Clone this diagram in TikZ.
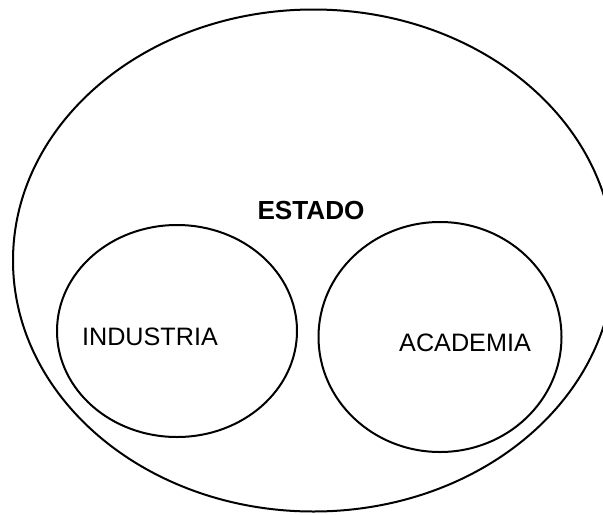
\documentclass[tikz,border=0pt]{standalone}
\usepackage{fontspec}
\setmainfont{Liberation Sans}
\usetikzlibrary{shapes.geometric}

\tikzset{
  conj/.style={draw, ellipse, line width=1.5pt, inner sep=0pt},
  rotulo/.style={inner sep=0.75pt, font=\fontsize{18.9}{21}\selectfont}
}

\begin{document}
\begin{tikzpicture}[x=0.75pt,y=0.75pt,yscale=-1,xscale=1]
\useasboundingbox (0,0) rectangle (603,514);
\clip (0,0) rectangle (603,514);

%Shape: Ellipse [id:estado]
\node [conj, minimum width=601*0.75pt, minimum height=502*0.75pt] (estado) at (313.5,260.5) {};
%Shape: Ellipse [id:industria]
\node [conj, minimum width=240*0.75pt, minimum height=212*0.75pt] (industria) at (177,331) {};
%Shape: Ellipse [id:academia]
\node [conj, minimum width=243*0.75pt, minimum height=230*0.75pt] (academia) at (440,337) {};

\draw (311,211) node [rotulo, font=\fontsize{19.6}{21}\selectfont\bfseries] (lestado) {ESTADO};
\draw (150,337) node [rotulo] (lindustria) {INDUSTRIA};
\draw (465,343) node [rotulo] (lacademia) {ACADEMIA};
\end{tikzpicture}
\end{document}
